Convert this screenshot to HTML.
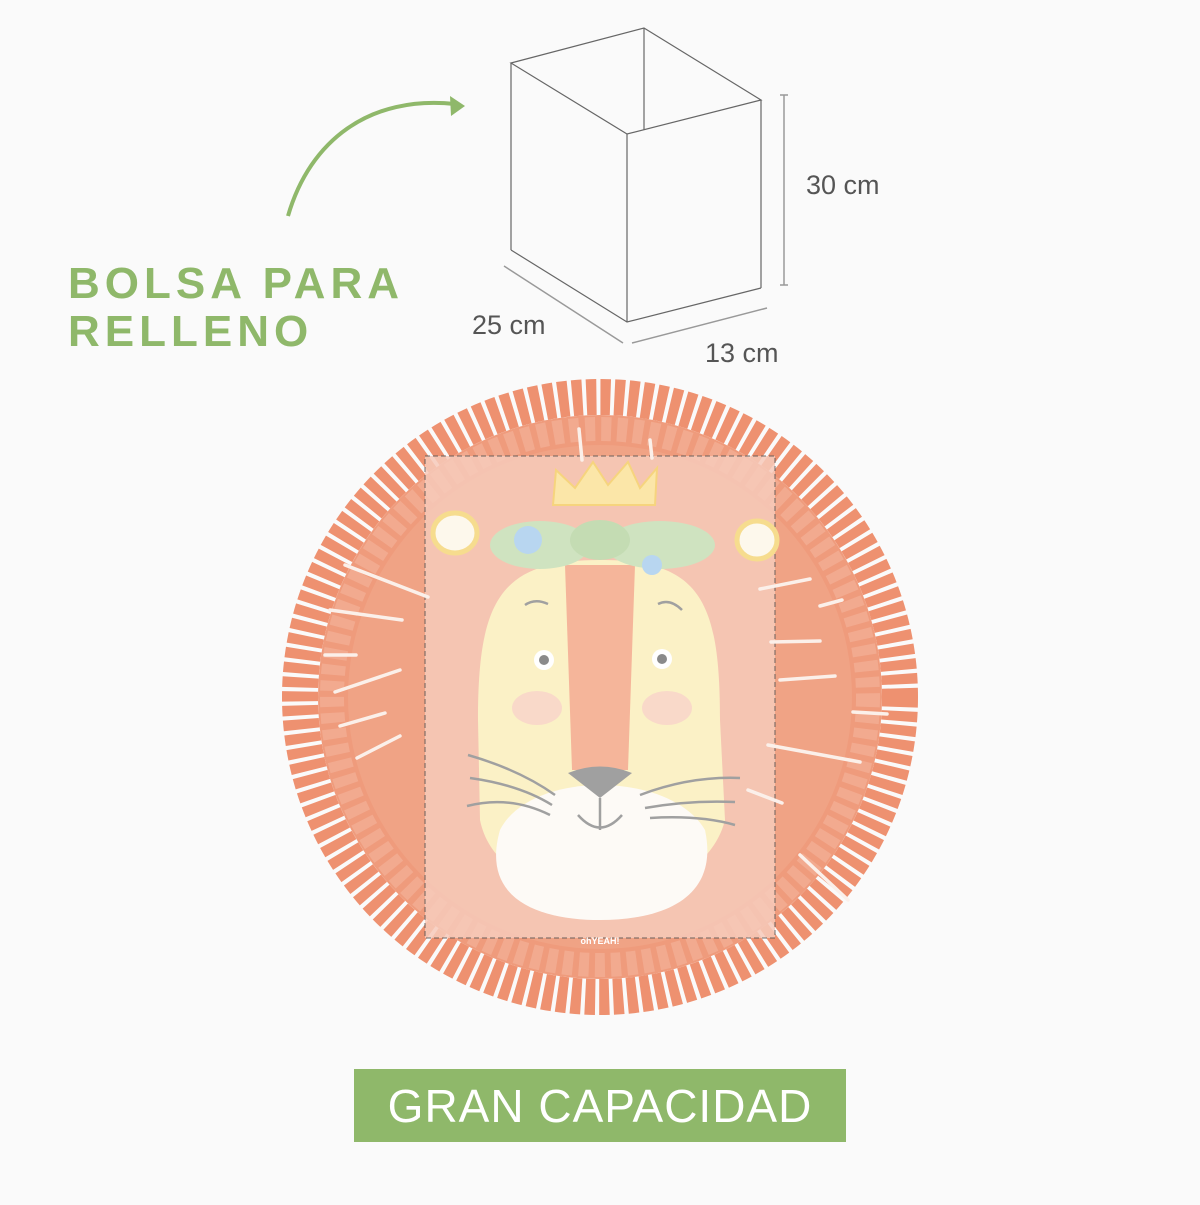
<!DOCTYPE html>
<html><head><style>
body{margin:0;background:#fafafa;width:1200px;height:1200px;overflow:hidden;font-family:"Liberation Sans",sans-serif}
</style></head><body>
<svg width="1200" height="1200" viewBox="0 0 1200 1200" xmlns="http://www.w3.org/2000/svg">
<rect width="1200" height="1200" fill="#fafafa"/>
<path d="M288 216 C310 140 370 95 455 104" fill="none" stroke="#8fb86a" stroke-width="4"/>
<polygon points="465,106 450,96 451,116" fill="#8fb86a"/>
<text x="68" y="298" font-size="44" font-weight="bold" fill="#8fb86a" letter-spacing="5">BOLSA PARA</text>
<text x="68" y="346" font-size="44" font-weight="bold" fill="#8fb86a" letter-spacing="5">RELLENO</text>
<g fill="none" stroke="#666" stroke-width="1.2">
<polygon points="511,63 644,28 761,100 627,134"/>
<line x1="644" y1="28" x2="644" y2="130"/>
<line x1="511" y1="63" x2="511" y2="250"/>
<line x1="627" y1="134" x2="627" y2="322"/>
<line x1="761" y1="100" x2="761" y2="288"/>
<polyline points="511,250 627,322 761,288"/>
</g>
<g stroke="#999" stroke-width="1.5">
<line x1="784" y1="95" x2="784" y2="285"/><line x1="780" y1="95" x2="788" y2="95"/><line x1="780" y1="285" x2="788" y2="285"/>
<line x1="504" y1="266" x2="623" y2="343"/>
<line x1="632" y1="343" x2="767" y2="308"/>
</g>
<g font-size="27" fill="#555">
<text x="806" y="194">30 cm</text>
<text x="472" y="334">25 cm</text>
<text x="705" y="362">13 cm</text>
</g>
<circle cx="600" cy="697" r="300" fill="none" stroke="#ee9170" stroke-width="36" stroke-dasharray="10 4"/>
<circle cx="600" cy="697" r="282" fill="#ef9b7c"/>
<circle cx="600" cy="697" r="268" fill="none" stroke="#f4b49c" stroke-width="24" stroke-dasharray="10 6" opacity="0.6"/>
<circle cx="600" cy="697" r="252" fill="#f0a385"/>
<rect x="425" y="456" width="350" height="482" fill="#f7cbbb" opacity="0.85" stroke="#555" stroke-width="1" stroke-dasharray="5 3"/>
<path d="M478 720 C478 600 500 560 600 560 C700 560 720 600 720 720 L725 820 C700 920 500 920 480 820 Z" fill="#fbf1c6"/>
<path d="M565 565 L635 565 L628 770 L572 770 Z" fill="#f5b59a"/>
<path d="M500 830 C530 770 670 770 705 830 C720 900 660 920 600 920 C540 920 480 900 500 830 Z" fill="#fdfaf6"/>
<polygon points="553,505 556,470 575,488 593,462 608,485 628,462 640,488 657,468 655,505" fill="#fbe6a8" stroke="#f6d47e" stroke-width="2"/>
<ellipse cx="455" cy="533" rx="22" ry="20" fill="#fdf8ec" stroke="#f6dc8e" stroke-width="5"/>
<ellipse cx="757" cy="540" rx="20" ry="19" fill="#fdf8ec" stroke="#f6dc8e" stroke-width="5"/>
<ellipse cx="540" cy="545" rx="50" ry="24" fill="#cfe3c0"/>
<ellipse cx="660" cy="545" rx="55" ry="24" fill="#cfe3c0"/>
<ellipse cx="600" cy="540" rx="30" ry="20" fill="#c4dcb3"/>
<circle cx="528" cy="540" r="14" fill="#b8d6f0"/>
<circle cx="652" cy="565" r="10" fill="#b8d6f0"/>
<circle cx="544" cy="660" r="10" fill="#fff"/><circle cx="544" cy="660" r="5" fill="#8a8a8a"/>
<circle cx="662" cy="659" r="10" fill="#fff"/><circle cx="662" cy="659" r="5" fill="#8a8a8a"/>
<ellipse cx="537" cy="708" rx="25" ry="17" fill="#f9d9c9"/>
<ellipse cx="667" cy="708" rx="25" ry="17" fill="#f9d9c9"/>
<path d="M568 773 Q600 760 632 773 L600 798 Z" fill="#a0a0a0"/>
<g fill="none" stroke="#a0a0a0" stroke-width="2.5">
<path d="M525 605 Q535 598 548 604"/><path d="M658 604 Q670 598 682 610"/>
<path d="M600 798 L600 830"/><path d="M578 815 Q600 840 622 815"/>
<path d="M468 755 Q520 770 555 795"/><path d="M470 778 Q520 785 552 805"/><path d="M467 806 Q510 795 550 815"/>
<path d="M640 795 Q690 776 740 778"/><path d="M645 808 Q690 800 735 802"/><path d="M650 818 Q700 815 735 825"/>
</g>
<g stroke="#fbf0ea" stroke-width="3.5" stroke-linecap="round">
<line x1="345" y1="565" x2="428" y2="597"/><line x1="330" y1="610" x2="402" y2="620"/>
<line x1="325" y1="655" x2="356" y2="655"/><line x1="335" y1="692" x2="400" y2="670"/>
<line x1="340" y1="726" x2="385" y2="713"/><line x1="357" y1="758" x2="400" y2="736"/>
<line x1="810" y1="579" x2="760" y2="589"/><line x1="842" y1="600" x2="820" y2="606"/>
<line x1="771" y1="642" x2="820" y2="641"/><line x1="780" y1="680" x2="835" y2="676"/>
<line x1="887" y1="714" x2="853" y2="712"/><line x1="768" y1="745" x2="860" y2="762"/>
<line x1="748" y1="790" x2="782" y2="803"/><line x1="800" y1="855" x2="848" y2="900"/>
<line x1="579" y1="429" x2="582" y2="460"/><line x1="650" y1="440" x2="652" y2="458"/>
</g>
<text x="600" y="944" font-size="9" font-weight="bold" fill="#fff" text-anchor="middle">ohYEAH!</text>
<rect x="354" y="1069" width="492" height="73" fill="#8fb86a"/>
<text x="600" y="1122" font-size="46" fill="#fff" text-anchor="middle" letter-spacing="1">GRAN CAPACIDAD</text>
</svg>
</body></html>
